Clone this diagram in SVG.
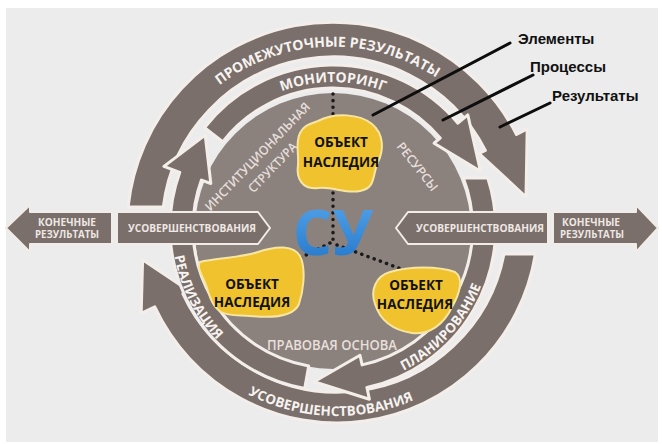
<svg xmlns="http://www.w3.org/2000/svg" width="662" height="444" viewBox="0 0 662 444">
<style>
.ring{fill:#7a6f6a;stroke:#f3eeea;stroke-width:3;stroke-linejoin:round}
.bar{fill:#7a6f6a;stroke:#f1ece8;stroke-width:2;stroke-linejoin:round}
.disc{fill:#8b827e}
.rt{font-family:"Open Sans","Liberation Sans",sans-serif;font-weight:700;fill:#f7f3f1;text-anchor:middle}
.it{font-family:"Open Sans","Liberation Sans",sans-serif;font-weight:600;fill:#e8dfda;text-anchor:middle}
.bt{font-family:"Open Sans","Liberation Sans",sans-serif;font-weight:700;fill:#efe8e4;text-anchor:middle}
.obj{fill:#efc22e;stroke:#f7e6a2;stroke-width:2}
.ot{font-family:"Open Sans","Liberation Sans",sans-serif;font-weight:700;font-size:13.5px;fill:#111;text-anchor:middle}
.dots{stroke:#1a1a1a;stroke-width:3.5;stroke-linecap:round;stroke-dasharray:0.1 6.5;fill:none}
.call{stroke:#0d0d0d;stroke-width:3;stroke-linecap:round;fill:none}
.lbl{font-family:"Liberation Sans",Arial,sans-serif;font-weight:700;font-size:15px;fill:#111}
</style>
<defs>
<linearGradient id="gSu" x1="0" y1="0" x2="0" y2="1">
<stop offset="0" stop-color="#5aa9ee"/>
<stop offset="1" stop-color="#1f73c6"/>
</linearGradient>
<path id="pOuterTop" d="M157.1,170.8 A187 187 0 0 1 504.5,158.7"/>
<path id="pMon" d="M213.4,144.3 A146 146 0 0 1 452.6,144.3"/>
<path id="pPlan" d="M360.6,384.6 A159 159 0 0 0 491.4,241.9"/>
<path id="pReal" d="M174.4,200.1 A161 161 0 0 0 262.4,372.7"/>
<path id="pBottom" d="M220.3,376.9 A194 194 0 0 0 442.7,384.7"/>
</defs>
<rect x="0" y="0" width="662" height="444" fill="#ffffff"/>
<rect x="6" y="8" width="652" height="434" fill="#ececec"/>

<g id="base-disc">
<circle class="disc" cx="333" cy="231" r="138"/>
</g>

<g id="ring-intermediate-results">
<path class="ring" d="M128.1,207 A206 206 0 0 1 516.5,134.5 L527.2,129 L526,197 L479.1,153.5 L485.4,150.4 A171 171 0 0 0 163.3,207 Z"/>
</g>
<g id="ring-improvement-bottom">
<path class="ring" d="M504,254 L535.4,254 A201 201 0 0 1 154.8,306.9 L141.2,313.3 L142.6,259.8 L189.3,290.9 L182.9,293.8 A170 170 0 0 0 504,254 Z"/>
</g>
<g id="ring-monitoring">
<path class="ring" d="M204.6,127.6 A163 163 0 0 1 457.9,123.2 L467.8,114.9 L480.5,171.4 L434.1,143.2 L440.2,138 A140 140 0 0 0 222.7,141.8 Z"/>
</g>
<g id="ring-realization">
<path class="ring" d="M304.7,388.5 A163 163 0 0 1 179.8,172.3 L163.9,166.4 L205.2,135.1 L210.8,183.5 L201.4,180.1 A140 140 0 0 0 308.7,365.9 Z"/>
</g>
<g id="ring-planning">
<path class="ring" d="M463.4,178 L487.8,178 A163 163 0 0 1 366.9,387.4 L369.4,399.2 L314.1,381.8 L360,355.2 L362.1,364.9 A140 140 0 0 0 463.4,178 Z"/>
</g>

<g id="ring-labels">
<text class="rt" font-size="14"><textPath href="#pOuterTop" startOffset="50%">ПРОМЕЖУТОЧНЫЕ РЕЗУЛЬТАТЫ</textPath></text>
<text class="rt" font-size="14"><textPath href="#pMon" startOffset="50%">МОНИТОРИНГ</textPath></text>
<text class="rt" font-size="13.5"><textPath href="#pPlan" startOffset="50%">ПЛАНИРОВАНИЕ</textPath></text>
<text class="rt" font-size="13.5"><textPath href="#pReal" startOffset="50%">РЕАЛИЗАЦИЯ</textPath></text>
<text class="rt" font-size="13.5"><textPath href="#pBottom" startOffset="50%">УСОВЕРШЕНСТВОВАНИЯ</textPath></text>
</g>

<g id="bar-left-final">
<path class="bar" d="M6,228 L30,205 L30,212 L112,212 L112,244 L30,244 L30,252 Z"/>
<text class="bt" font-size="10.5" x="67" y="226" textLength="58" lengthAdjust="spacingAndGlyphs">КОНЕЧНЫЕ</text>
<text class="bt" font-size="10.5" x="67" y="238" textLength="64" lengthAdjust="spacingAndGlyphs">РЕЗУЛЬТАТЫ</text>
</g>
<g id="bar-left-improvement">
<path class="bar" d="M117,212 L258,212 L270,228 L258,244 L117,244 Z"/>
<text class="bt" font-size="11" x="192" y="232" textLength="128" lengthAdjust="spacingAndGlyphs">УСОВЕРШЕНСТВОВАНИЯ</text>
</g>
<g id="bar-right-improvement">
<path class="bar" d="M396,228 L408,212 L548,212 L548,244 L408,244 Z"/>
<text class="bt" font-size="11" x="480" y="232" textLength="128" lengthAdjust="spacingAndGlyphs">УСОВЕРШЕНСТВОВАНИЯ</text>
</g>
<g id="bar-right-final">
<path class="bar" d="M553,212 L636,212 L636,205 L658,228 L636,252 L636,244 L553,244 Z"/>
<text class="bt" font-size="10.5" x="591" y="226" textLength="58" lengthAdjust="spacingAndGlyphs">КОНЕЧНЫЕ</text>
<text class="bt" font-size="10.5" x="592" y="238" textLength="64" lengthAdjust="spacingAndGlyphs">РЕЗУЛЬТАТЫ</text>
</g>

<g id="disc-labels">
<text class="it" font-size="12.5" transform="translate(260.7,159.6) rotate(-46)" textLength="145" lengthAdjust="spacingAndGlyphs">ИНСТИТУЦИОНАЛЬНАЯ</text>
<text class="it" font-size="12.5" transform="translate(275.7,170.6) rotate(-46)" textLength="64" lengthAdjust="spacingAndGlyphs">СТРУКТУРА</text>
<text class="it" font-size="12.5" transform="translate(413.9,169.3) rotate(52)" textLength="58" lengthAdjust="spacingAndGlyphs">РЕСУРСЫ</text>
<text class="it" font-size="13.5" x="332" y="350" textLength="130" lengthAdjust="spacingAndGlyphs">ПРАВОВАЯ ОСНОВА</text>
</g>

<g id="connectors">
<path class="dots" d="M333,94 V240"/>
<path class="dots" d="M330,243 L290,263"/>
<path class="dots" d="M337,245 L412,273"/>
<path class="call" d="M510,43 L373,115"/>
<path class="call" d="M533,75 L443,120"/>
<path class="call" d="M550,103 L500,127"/>
</g>

<g id="object-top">
<path class="obj" d="M318,121 C335,112 360,114 372,124 C384,134 384,150 378,162 C372,176 376,188 360,191 C345,194 332,186 318,188 C302,190 296,178 298,165 C299,153 295,143 300,133 C304,125 310,124 318,121 Z"/>
<text class="ot" x="341" y="147">ОБЪЕКТ</text>
<text class="ot" x="341" y="167">НАСЛЕДИЯ</text>
</g>
<g id="object-left">
<path class="obj" d="M200,262 C216,258 240,258 258,252 C275,246 295,244 301,258 C306,272 303,292 299,304 C293,318 270,318 250,316 C238,315 228,316 221,312 C213,307 210,298 207,288 C204,278 196,268 200,262 Z"/>
<text class="ot" x="252" y="289">ОБЪЕКТ</text>
<text class="ot" x="252" y="307">НАСЛЕДИЯ</text>
</g>
<g id="object-right">
<path class="obj" d="M390,272 C410,266 438,266 455,272 C464,278 460,293 452,307 C444,324 430,335 412,333 C392,330 380,320 375,304 C370,290 376,276 390,272 Z"/>
<text class="ot" x="416" y="290">ОБЪЕКТ</text>
<text class="ot" x="415" y="309">НАСЛЕДИЯ</text>
</g>

<g id="center-su">
<text x="333" y="255" font-family="'Open Sans','Liberation Sans',sans-serif" font-weight="700" font-size="62" fill="url(#gSu)" text-anchor="middle">СУ</text>
</g>

<g id="label-elements"><text class="lbl" x="518" y="44">Элементы</text></g>
<g id="label-processes"><text class="lbl" x="530" y="72">Процессы</text></g>
<g id="label-results"><text class="lbl" x="552" y="101">Результаты</text></g>
</svg>
